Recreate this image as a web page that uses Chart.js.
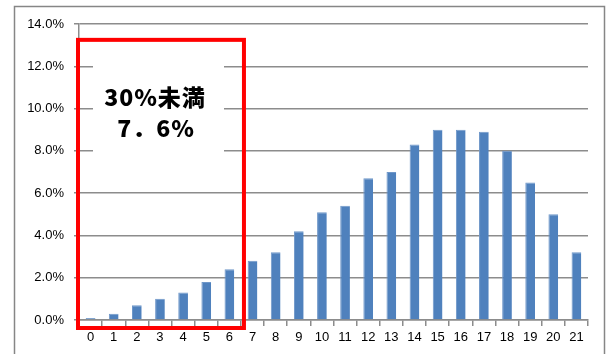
<!DOCTYPE html>
<html>
<head>
<meta charset="utf-8">
<script src="https://cdn.jsdelivr.net/npm/chart.js@4"></script>
<style>
  html, body { margin: 0; padding: 0; background: #fff; }
  #wrap { width: 608px; height: 354px; }
</style>
</head>
<body>
<div id="wrap"><canvas id="chart" width="608" height="354"></canvas></div>
<script>
// categories and values (percent)
const categories = ['0','1','2','3','4','5','6','7','8','9','10','11','12','13','14','15','16','17','18','19','20','21'];
const shares = [0.1, 0.3, 0.7, 1.0, 1.3, 1.8, 2.4, 2.8, 3.2, 4.2, 5.1, 5.4, 6.7, 7.0, 8.3, 9.0, 9.0, 8.9, 8.0, 6.5, 5.0, 3.2];
const yTicks = [0, 2, 4, 6, 8, 10, 12, 14];
const noteLines = ['30%未満', '7．6%'];

const gridGray = '#8c8c8c';

// outer frame, red box and the note
const overlay = {
    id: 'overlay',
    beforeDraw(c) {
        const ctx = c.ctx;
        ctx.save();
        ctx.fillStyle = '#fff';
        ctx.fillRect(0, 0, c.width, c.height);
        ctx.strokeStyle = '#868686';
        ctx.lineWidth = 1.5;
        ctx.strokeRect(14.5, 6.5, 590, 400);
        ctx.restore();
    },
    afterDraw(c) {
        const ctx = c.ctx;
        const x = c.scales.x, y = c.scales.y;
        const left = c.chartArea.left - 1;
        const right = (x.getPixelForValue(6) + x.getPixelForValue(7)) / 2 + 3;
        const top = y.getPixelForValue(13.25);
        const bottom = c.chartArea.bottom + 8;
        ctx.save();
        // white patch behind text
        ctx.fillStyle = '#fff';
        ctx.fillRect(93, 58, 131, 105);
        ctx.strokeStyle = '#ff0000';
        ctx.lineWidth = 4;
        ctx.strokeRect(left, top, right - left, bottom - top);
        ctx.fillStyle = '#000';
        ctx.font = '900 23px "Noto Sans CJK JP"';
        ctx.textAlign = 'center';
        ctx.textBaseline = 'middle';
        ctx.letterSpacing = '1px';
        ctx.fillText(noteLines[0], 155, 97);
        ctx.fillText(noteLines[1], 156, 128);
        ctx.restore();
    }
};

new Chart(document.getElementById('chart'), {
    type: 'bar',
    data: {
        labels: categories,
        datasets: [{
            data: shares,
            backgroundColor: '#4f81bd',
            borderColor: '#6f97c9',
            borderWidth: { left: 1, top: 1 },
            categoryPercentage: 1,
            barPercentage: 0.42
        }]
    },
    options: {
        responsive: false,
        animation: false,
        layout: { padding: { left: 14, right: 20, top: 24, bottom: 0 } },
        plugins: { legend: { display: false }, tooltip: { enabled: false } },
        scales: {
            x: {
                grid: {
                    drawOnChartArea: false,
                    drawTicks: true,
                    tickLength: 6,
                    color: gridGray,
                    lineWidth: 1.5
                },
                border: { color: gridGray, width: 1.5 },
                ticks: { color: '#000', font: { family: 'Liberation Sans', size: 13 }, padding: 4, maxRotation: 0, autoSkip: false },
                afterFit(s) { s.height = 34; }
            },
            y: {
                min: 0,
                max: 14,
                afterBuildTicks(s) { s.ticks = yTicks.map(v => ({ value: v })); },
                grid: { color: gridGray, lineWidth: 1.5, tickLength: 5 },
                border: { color: gridGray, width: 1.5 },
                ticks: {
                    color: '#000',
                    font: { family: 'Liberation Sans', size: 13 },
                    padding: 10,
                    callback: v => v.toFixed(1) + '%'
                },
                afterFit(s) { s.width = 65; }
            }
        }
    },
    plugins: [overlay]
});
</script>
</body>
</html>
